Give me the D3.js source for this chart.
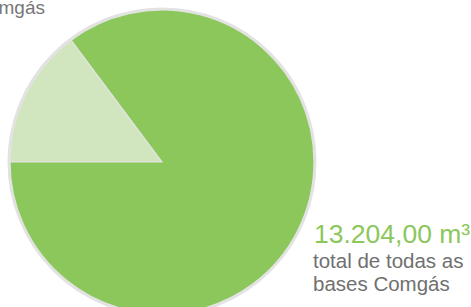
<!DOCTYPE html>
<html>
<head>
<meta charset="utf-8">
<script src="https://cdn.jsdelivr.net/npm/d3@7"></script>
<style>
  body { margin: 0; background: #fff; }
  svg { display: block; font-family: "Liberation Sans", Arial, sans-serif; }
</style>
</head>
<body>
<svg width="471" height="307"></svg>
<script>
var categories = ["outras bases", "bases Comgás"];
var values = [1954, 11250];
var totalLabel = "13.204,00 m³";
var captionLines = ["total de todas as", "bases Comgás"];
var topLabel = "Comgás";

var svg = d3.select("svg"),
    width = +svg.attr("width"),
    height = +svg.attr("height");

var cx = 162, cy = 162, r = 152;

var color = d3.scaleOrdinal()
    .domain(categories)
    .range(["#d1e6bf", "#8bc75b"]);

var pie = d3.pie()
    .sort(null)
    .value(d => d.value)
    .startAngle(-Math.PI / 2)
    .endAngle(Math.PI * 1.5);

var arc = d3.arc().innerRadius(0).outerRadius(r);

var data = categories.map((c, i) => ({name: c, value: values[i]}));

var g = svg.append("g").attr("transform", "translate(" + cx + "," + cy + ")");

// soft rim
g.append("circle")
    .attr("r", r + 1)
    .attr("fill", "none")
    .attr("stroke", "#e2e2e2")
    .attr("stroke-width", 3);

g.selectAll("path")
    .data(pie(data))
    .enter().append("path")
    .attr("d", arc)
    .attr("fill", d => color(d.data.name))
    .attr("stroke", "#e4e4e4")
    .attr("stroke-width", 1.2);

svg.append("text")
    .attr("x", 45).attr("y", 14)
    .attr("text-anchor", "end")
    .attr("font-size", 19)
    .attr("fill", "#777")
    .text(topLabel);

svg.append("text")
    .attr("x", 314).attr("y", 243)
    .attr("font-size", 26.5)
    .attr("fill", "#8bc75b")
    .text(totalLabel);

svg.selectAll("text.cap")
    .data(captionLines)
    .enter().append("text")
    .attr("class", "cap")
    .attr("x", 313)
    .attr("y", (d, i) => 268 + i * 23)
    .attr("font-size", 20.5)
    .attr("fill", "#707070")
    .text(d => d);
</script>
</body>
</html>
